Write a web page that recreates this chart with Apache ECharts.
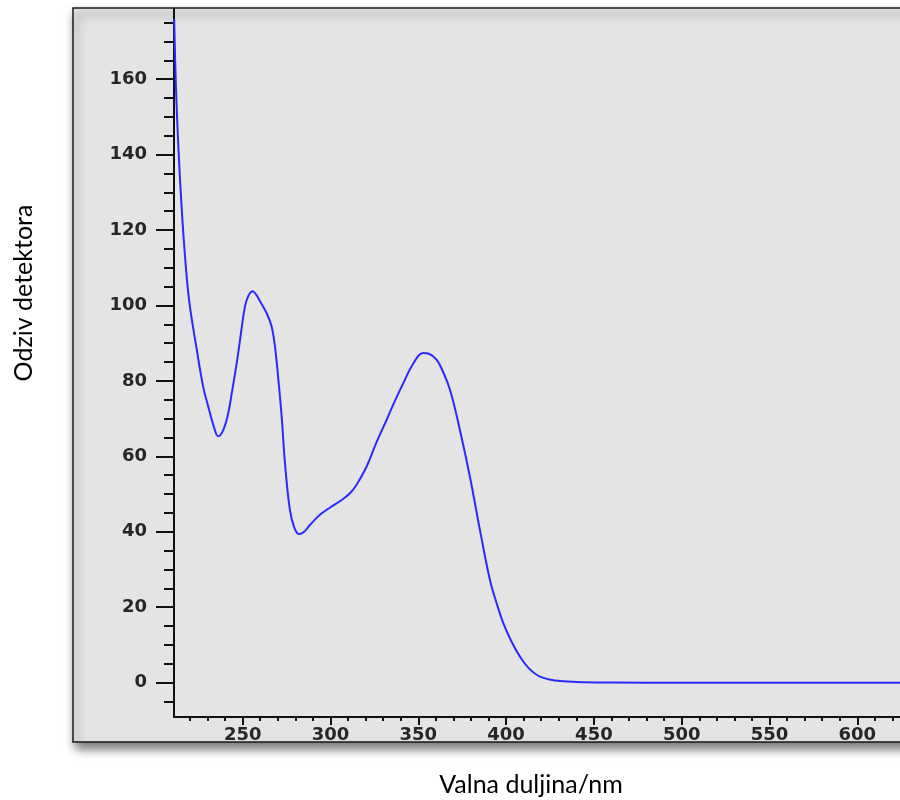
<!DOCTYPE html>
<html>
<head>
<meta charset="utf-8">
<script src="https://cdn.jsdelivr.net/npm/echarts@6/dist/echarts.min.js"></script>
<style>
html,body{margin:0;padding:0;background:#fff;}
#chart{width:900px;height:800px;}
</style>
</head>
<body>
<div id="chart"></div>
<script>
// Data
var wavelength = [211.0, 212.0, 213.5, 215.0, 216.9, 219.5, 223.9, 227.5, 230.4, 233.5, 236.1, 239.0, 241.8, 243.7, 246.6, 249.0, 251.3, 253.5, 255.7, 257.5, 259.9, 263.7, 266.5, 268.4, 270.3, 272.2, 274.1, 276.9, 279.5, 282.2, 285.0, 288.3, 294.0, 300.0, 306.0, 311.1, 314.8, 320.6, 326.0, 332.0, 336.5, 341.5, 347.0, 352.8, 356.0, 360.5, 364.0, 368.1, 373.7, 379.4, 385.1, 390.8, 394.0, 398.4, 403.0, 407.9, 413.0, 419.3, 428.0, 440.0, 460.0, 500.0, 550.0, 600.0, 624.3];
var response   = [176.0, 158.0, 141.0, 128.0, 114.7, 101.4, 88.2, 78.5, 73.2, 68.0, 65.3, 67.0, 71.5, 76.5, 84.7, 92.5, 99.7, 102.8, 103.8, 103.0, 101.1, 97.9, 94.4, 89.1, 80.5, 70.6, 58.2, 45.8, 41.0, 39.4, 40.0, 41.8, 44.5, 46.5, 48.3, 50.2, 52.4, 57.3, 63.5, 69.7, 74.5, 79.4, 84.5, 87.4, 87.2, 85.6, 82.5, 77.6, 67.0, 54.6, 40.5, 27.2, 22.0, 15.8, 11.0, 6.9, 3.8, 1.6, 0.6, 0.2, 0.05, 0.0, 0.0, 0.0, 0.0];

var xMajorTicks = [250, 300, 350, 400, 450, 500, 550, 600];
var xMinorTicks = [220, 230, 240, 260, 270, 280, 290, 310, 320, 330, 340, 360, 370, 380, 390, 410, 420, 430, 440, 460, 470, 480, 490, 510, 520, 530, 540, 560, 570, 580, 590, 610, 620];
var yMajorTicks = [0, 20, 40, 60, 80, 100, 120, 140, 160];
var yMinorTicks = [-5, 5, 10, 15, 25, 30, 35, 45, 50, 55, 65, 70, 75, 85, 90, 95, 105, 110, 115, 125, 130, 135, 145, 150, 155, 165, 170, 175];

var xMin = 210.9, xMax = 624.3, yMin = -9.1, yMax = 178.6;

var seriesData = wavelength.map(function (w, i) { return [w, response[i]]; });

var labelFont = {
  fontFamily: 'DejaVu Sans',
  fontWeight: 'bold',
  fontSize: 18,
  color: '#262626'
};

var chart = echarts.init(document.getElementById('chart'), null, {renderer: 'canvas'});
chart.setOption({
  animation: false,
  backgroundColor: '#ffffff',
  graphic: [
    {
      type: 'rect',
      z: -100,
      silent: true,
      shape: {x: 73, y: 8, width: 850, height: 734},
      style: {
        fill: '#e4e4e4',
        stroke: '#1a1a1a',
        lineWidth: 1.5,
        shadowBlur: 10,
        shadowOffsetX: 3,
        shadowOffsetY: 6,
        shadowColor: 'rgba(0,0,0,0.55)'
      }
    },
    {
      type: 'text',
      x: 24,
      y: 293,
      rotation: Math.PI / 2,
      style: {
        text: 'Odziv detektora',
        fontFamily: 'Lato',
        fontSize: 25,
        fill: '#000',
        align: 'center',
        verticalAlign: 'middle'
      }
    },
    {
      type: 'text',
      x: 531,
      y: 785,
      style: {
        text: 'Valna duljina/nm',
        fontFamily: 'Lato',
        fontSize: 25,
        fill: '#000',
        align: 'center',
        verticalAlign: 'middle'
      }
    }
  ],
  grid: {left: 174, right: 0, top: 9, bottom: 83, containLabel: false},
  xAxis: [
    {
      type: 'value', min: xMin, max: xMax, position: 'bottom',
      axisLine: {show: true, onZero: false, lineStyle: {color: '#111', width: 2}},
      axisTick: {show: true, length: 8, lineStyle: {color: '#111', width: 2}, customValues: xMajorTicks},
      axisLabel: Object.assign({show: true, margin: 9, customValues: xMajorTicks}, labelFont),
      splitLine: {show: false}
    },
    {
      type: 'value', min: xMin, max: xMax, position: 'bottom', offset: 0,
      axisLine: {show: false, onZero: false},
      axisTick: {show: true, length: 4, lineStyle: {color: '#111', width: 2}, customValues: xMinorTicks},
      axisLabel: {show: false, customValues: xMinorTicks},
      splitLine: {show: false}
    }
  ],
  yAxis: [
    {
      type: 'value', min: yMin, max: yMax, position: 'left',
      axisLine: {show: true, onZero: false, lineStyle: {color: '#111', width: 2}},
      axisTick: {show: true, length: 18, lineStyle: {color: '#111', width: 2}, customValues: yMajorTicks},
      axisLabel: Object.assign({show: true, margin: 27, customValues: yMajorTicks}, labelFont),
      splitLine: {show: false}
    },
    {
      type: 'value', min: yMin, max: yMax, position: 'left', offset: 0,
      axisLine: {show: false, onZero: false},
      axisTick: {show: true, length: 10, lineStyle: {color: '#111', width: 2}, customValues: yMinorTicks},
      axisLabel: {show: false, customValues: yMinorTicks},
      splitLine: {show: false}
    }
  ],
  series: [
    {
      type: 'line',
      xAxisIndex: 0,
      yAxisIndex: 0,
      data: seriesData,
      smooth: 0.4,
      showSymbol: false,
      symbol: 'none',
      clip: true,
      lineStyle: {color: '#2a2aff', width: 2}
    }
  ]
});
</script>
</body>
</html>
